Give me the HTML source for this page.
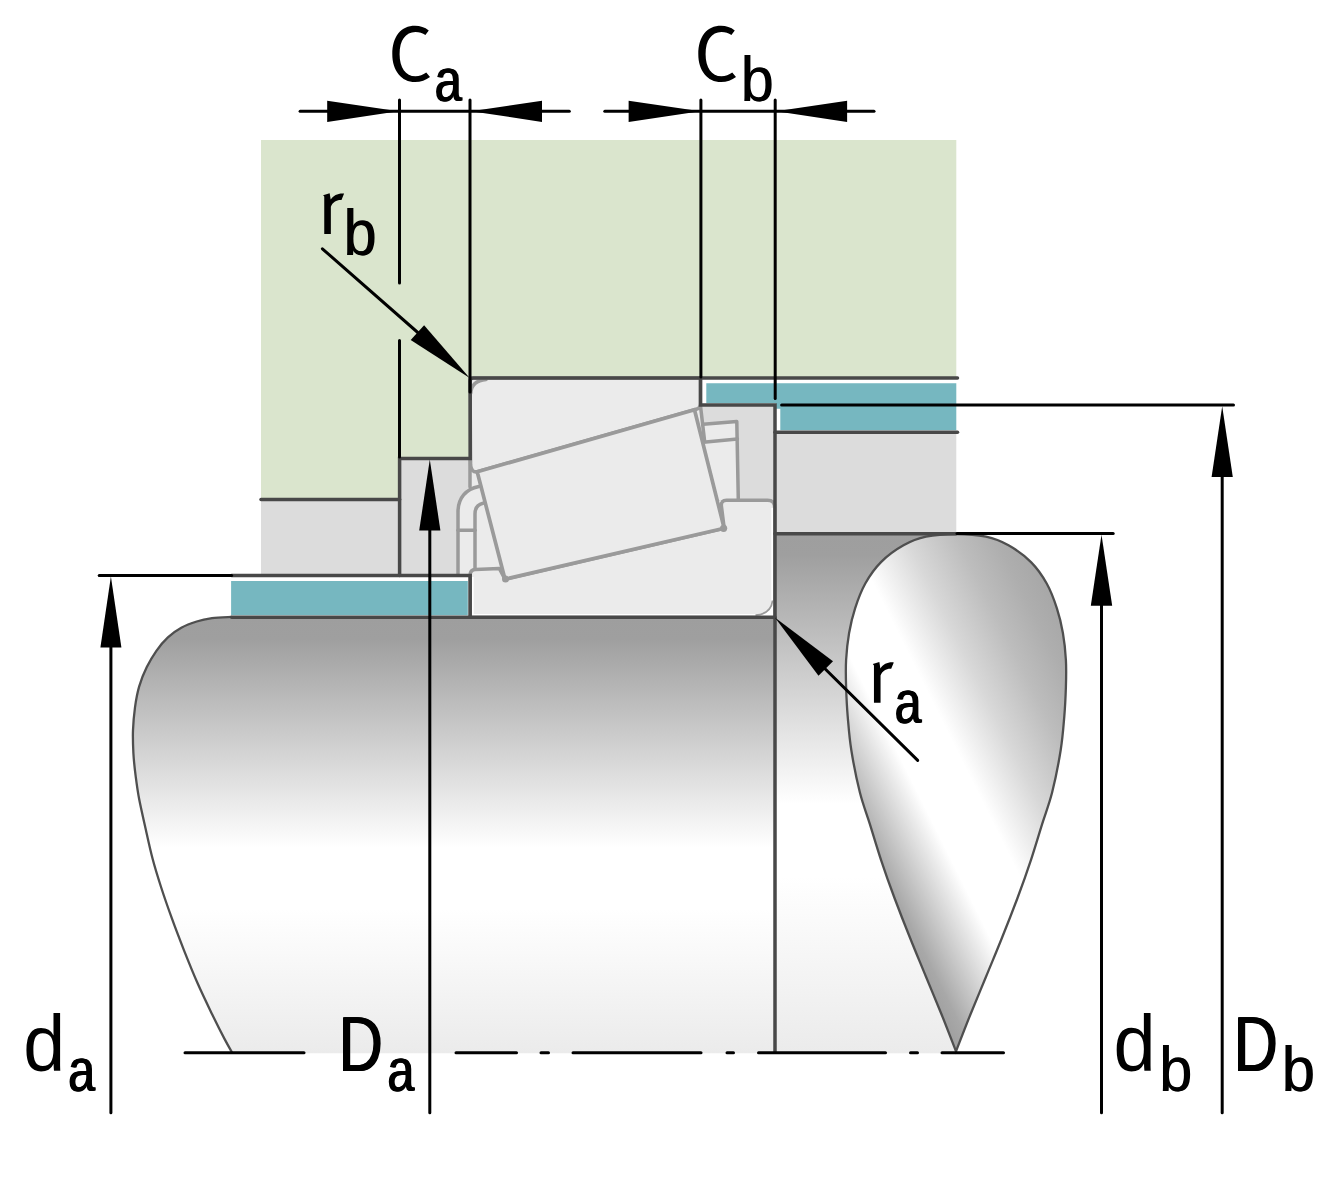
<!DOCTYPE html>
<html>
<head>
<meta charset="utf-8">
<title>Bearing mounting dimensions</title>
<style>
  html, body { margin: 0; padding: 0; background: #ffffff; }
  body { width: 1330px; height: 1200px; overflow: hidden; font-family: "Liberation Sans", sans-serif; }
  svg { display: block; }
  text { font-family: "Liberation Sans", sans-serif; fill: #000; }
</style>
</head>
<body>
<svg width="1330" height="1200" viewBox="0 0 1330 1200">
  <defs>
    <linearGradient id="gShaftL" gradientUnits="userSpaceOnUse" x1="0" y1="617" x2="0" y2="1053">
      <stop offset="0" stop-color="#9e9e9e"/>
      <stop offset="0.05" stop-color="#9f9f9f"/>
      <stop offset="0.53" stop-color="#ffffff"/>
      <stop offset="0.67" stop-color="#ffffff"/>
      <stop offset="1" stop-color="#ebebeb"/>
    </linearGradient>
    <linearGradient id="gShaftR" gradientUnits="userSpaceOnUse" x1="0" y1="534" x2="0" y2="1053">
      <stop offset="0" stop-color="#9e9e9e"/>
      <stop offset="0.04" stop-color="#9f9f9f"/>
      <stop offset="0.52" stop-color="#ffffff"/>
      <stop offset="0.66" stop-color="#ffffff"/>
      <stop offset="1" stop-color="#ebebeb"/>
    </linearGradient>
    <linearGradient id="gDrop" gradientUnits="userSpaceOnUse" x1="847.3" y1="844.4" x2="1115.5" y2="710.3">
      <stop offset="0" stop-color="#9c9c9c"/>
      <stop offset="0.067" stop-color="#a8a8a8"/>
      <stop offset="0.287" stop-color="#ffffff"/>
      <stop offset="0.467" stop-color="#ffffff"/>
      <stop offset="0.633" stop-color="#d8d8d8"/>
      <stop offset="0.783" stop-color="#bdbdbd"/>
      <stop offset="0.9" stop-color="#aeaeae"/>
      <stop offset="1" stop-color="#a6a6a6"/>
    </linearGradient>
  </defs>

  <rect x="0" y="0" width="1330" height="1200" fill="#ffffff"/>

  <!-- housing (green) -->
  <path id="housing" d="M261,140 H956.3 V378 H470 V458.5 H399.6 V499.4 H261 Z" fill="#dae5cd"/>

  <!-- grey adjacent parts -->
  <rect x="261" y="499.4" width="138.6" height="76" fill="#dcdcdc"/>
  <rect x="399.6" y="458.5" width="71" height="117" fill="#dcdcdc"/>
  <rect x="700.8" y="405" width="74.2" height="96" fill="#dcdcdc"/>
  <rect x="775" y="432" width="181.3" height="102" fill="#dcdcdc"/>

  <!-- teal spacers -->
  <rect x="231.1" y="581" width="236.7" height="34.2" fill="#76b7c0"/>
  <path d="M706.3,383.3 H956.3 V430.3 H780.3 V408.8 H776 V403.2 H706.3 Z" fill="#76b7c0"/>

  <!-- shaft -->
  <path id="shaftL" d="M231.4,616.9 C228.2,617.1 217.8,617.4 212.0,618.2 C206.2,619.0 201.8,619.9 196.7,621.5 C191.6,623.1 186.1,625.1 181.3,627.8 C176.5,630.4 172.1,633.6 167.9,637.4 C163.8,641.2 159.9,645.8 156.4,650.8 C152.9,655.8 149.7,661.2 146.8,667.1 C143.9,673.0 141.2,679.6 139.2,686.3 C137.2,693.0 136.0,700.0 135.0,707.3 C134.0,714.6 133.3,722.6 133.0,730.3 C132.7,738.0 133.0,745.6 133.4,753.3 C133.8,761.0 134.7,768.6 135.7,776.3 C136.7,784.0 137.5,790.3 139.2,799.3 C140.9,808.2 143.7,820.1 145.9,830.0 C148.1,839.9 150.1,849.2 152.6,858.8 C155.1,868.4 158.0,877.6 161.2,887.5 C164.4,897.4 168.0,907.7 171.8,918.2 C175.6,928.8 179.9,939.9 184.2,950.8 C188.5,961.6 193.0,972.8 197.6,983.3 C202.2,993.8 207.5,1004.7 212.0,1014.0 C216.5,1023.3 221.2,1032.6 224.5,1038.9 C227.8,1045.2 230.4,1049.5 231.6,1051.6 L231.6,1053.3 H775 V617 Z" fill="url(#gShaftL)"/>
  <rect x="775" y="534" width="181" height="519.3" fill="url(#gShaftR)"/>
  <path d="M231.4,616.9 C228.2,617.1 217.8,617.4 212.0,618.2 C206.2,619.0 201.8,619.9 196.7,621.5 C191.6,623.1 186.1,625.1 181.3,627.8 C176.5,630.4 172.1,633.6 167.9,637.4 C163.8,641.2 159.9,645.8 156.4,650.8 C152.9,655.8 149.7,661.2 146.8,667.1 C143.9,673.0 141.2,679.6 139.2,686.3 C137.2,693.0 136.0,700.0 135.0,707.3 C134.0,714.6 133.3,722.6 133.0,730.3 C132.7,738.0 133.0,745.6 133.4,753.3 C133.8,761.0 134.7,768.6 135.7,776.3 C136.7,784.0 137.5,790.3 139.2,799.3 C140.9,808.2 143.7,820.1 145.9,830.0 C148.1,839.9 150.1,849.2 152.6,858.8 C155.1,868.4 158.0,877.6 161.2,887.5 C164.4,897.4 168.0,907.7 171.8,918.2 C175.6,928.8 179.9,939.9 184.2,950.8 C188.5,961.6 193.0,972.8 197.6,983.3 C202.2,993.8 207.5,1004.7 212.0,1014.0 C216.5,1023.3 221.2,1032.6 224.5,1038.9 C227.8,1045.2 230.4,1049.5 231.6,1051.6" fill="none" stroke="#4f4f4f" stroke-width="2.3" stroke-linecap="round"/>

  <!-- droplet (section cut) -->
  <path id="drop" d="M956.0,1051.3 C953.6,1045.2 946.8,1027.4 941.8,1015.0 C936.8,1002.6 931.2,989.5 926.0,976.8 C920.8,964.0 915.5,951.6 910.3,938.5 C905.0,925.4 899.4,911.1 894.5,898.0 C889.6,884.9 885.1,872.2 881.0,859.8 C876.9,847.4 873.3,835.0 869.8,823.8 C866.3,812.6 863.0,804.8 859.9,792.5 C856.8,780.2 853.3,762.7 851.3,750.0 C849.3,737.3 848.6,726.8 847.7,716.3 C846.8,705.8 846.4,696.4 846.1,687.0 C845.8,677.6 845.6,669.0 846.1,660.0 C846.6,651.0 847.6,641.6 849.1,633.0 C850.6,624.4 852.4,616.5 855.1,608.3 C857.8,600.0 861.0,591.2 865.3,583.5 C869.6,575.8 874.6,568.5 881.0,562.1 C887.4,555.7 896.0,549.5 903.5,545.3 C911.0,541.1 917.2,538.6 926.0,536.7 C934.8,534.8 946.0,534.0 956.0,534.0 C966.0,534.0 977.2,534.8 986.0,536.7 C994.8,538.6 1001.0,541.1 1008.5,545.3 C1016.0,549.5 1024.6,555.7 1031.0,562.1 C1037.4,568.5 1042.4,575.8 1046.7,583.5 C1051.0,591.2 1054.2,600.0 1056.9,608.3 C1059.6,616.5 1061.4,624.4 1062.9,633.0 C1064.4,641.6 1065.4,651.0 1065.9,660.0 C1066.4,669.0 1066.2,677.6 1065.9,687.0 C1065.6,696.4 1065.2,705.8 1064.3,716.3 C1063.4,726.8 1062.7,737.3 1060.7,750.0 C1058.7,762.7 1055.2,780.2 1052.1,792.5 C1049.0,804.8 1045.7,812.6 1042.2,823.8 C1038.7,835.0 1035.1,847.4 1031.0,859.8 C1026.9,872.2 1022.4,884.9 1017.5,898.0 C1012.6,911.1 1007.0,925.4 1001.7,938.5 C996.5,951.6 991.2,964.0 986.0,976.8 C980.8,989.5 975.2,1002.6 970.2,1015.0 C965.2,1027.4 958.4,1045.2 956.0,1051.3 Z" fill="url(#gDrop)" stroke="#4f4f4f" stroke-width="2.3" stroke-linejoin="miter"/>

  <!-- bearing -->
  <g id="bearing" stroke="#9a9a9a" stroke-width="3.5" stroke-linejoin="round" stroke-linecap="round" fill="#ebebeb">
    <!-- cage background / light areas -->
    <path d="M470,460 V487 C462,492 458,500 458,512 V574 H507 L480,473 Z" stroke="none"/>
    <path d="M694,410 L700.5,407 L703.2,424.2 L736.8,421.6 L738.3,500 H716 Z" stroke="none"/>
    <!-- outer ring -->
    <path d="M470,378 H700.5 V403 Q700.5,408 697,408.98 L477.2,471.8 Q471.2,472.6 470.6,465 Z"/>
    <path d="M470.8,393 Q471.5,381 486,379.6" fill="none"/>
    <!-- inner ring -->
    <path d="M470,617 V575.5 Q470,569.6 475.5,569.4 L499.3,568.4 L505,579.2 L724.2,528.3 L721.4,506 Q720.8,500.3 726.5,500.3 H767.5 Q774.7,500.3 774.7,507.5 V617 Z"/>
    
    <path d="M472.8,577 V614.9 H772.2 V508" fill="none" stroke="#ffffff" stroke-width="1.8" stroke-linejoin="miter" stroke-linecap="butt"/>
    <path d="M755.5,615.9 Q771.5,614.6 773.2,600.5 V615.9 Z" fill="#ffffff" stroke="none"/>
    <path d="M755.5,615.2 Q771,614 772.6,600.5" fill="none" stroke="#9a9a9a" stroke-width="1.8" stroke-linecap="butt"/>
    <!-- cage left -->
    <path d="M470,460 V487" fill="none"/>
    <path d="M478.8,486.5 C466,489 458,498 458,512 V574" fill="none"/>
    <path d="M483,503.3 C477.5,504.5 475,508 475,514 V569.3" fill="none"/>
    <path d="M458,530.3 H475" fill="none"/>
    <!-- cage right -->
    <path d="M700.5,406 L704.7,442" fill="none"/>
    <path d="M703.2,424.2 L736.8,421.6 L738.3,500" fill="none"/>
    <path d="M705.8,442.1 L737.4,438.9" fill="none"/>
    <!-- roller -->
    <path d="M477.2,471.8 L694.5,409.7 L724.2,528.3 L505,579.2 Z" stroke-width="3.7"/>
    <circle cx="723.6" cy="528.3" r="3.6" fill="#9a9a9a" stroke="none"/>
    <circle cx="505.5" cy="579" r="3.5" fill="#9a9a9a" stroke="none"/>
  </g>

  <!-- dark outlines -->
  <g id="outlines" stroke="#484848" stroke-width="3.5" fill="none" stroke-linecap="round" stroke-linejoin="miter">
    <path d="M261,499.4 H399.6"/>
    <path d="M399.6,575.5 V458.5 H470.2 V381 Q470.2,378 473.2,378 H957.5"/>
    <path d="M700.5,378 V405 H775 V1052"/>
    <path d="M775,432.2 H957.5"/>
    <path d="M775,533.8 H956"/>
    <path d="M231.6,575.5 H470.2 V617.3"/>
    <path d="M231.6,617.3 H775"/>
  </g>

  <!-- dimension lines -->
  <g id="dims" stroke="#000" stroke-width="3" fill="none" stroke-linecap="round">
    <path d="M300.1,111.3 H569.3"/>
    <path d="M399.5,100 V283.1 M399.5,340.5 V457"/>
    <path d="M470,100 V392"/>
    <path d="M604.8,111.3 H874"/>
    <path d="M700.9,100 V377"/>
    <path d="M775.2,100 V398.5"/>
    <path d="M781.6,405 H1233.5"/>
    <path d="M1222.2,420 V1112.8"/>
    <path d="M957,533.6 H1113.2"/>
    <path d="M1101.5,550 V1112.8"/>
    <path d="M99.2,575.4 H231.6"/>
    <path d="M110.9,590 V1112.8"/>
    <path d="M429.8,475 V1112.8"/>
    <path d="M322.4,248.8 L440,352"/>
    <path d="M805,649 L917.7,760.4"/>
  </g>

  <!-- centre line -->
  <g stroke="#000" stroke-width="3" stroke-linecap="round" fill="none">
    <path d="M185,1052.7 H304"/>
    <path d="M456,1052.7 H516.5"/>
    <path d="M541,1052.7 H548.5"/>
    <path d="M573,1052.7 H701"/>
    <path d="M727,1052.7 H733.5"/>
    <path d="M758.5,1052.7 H885.5"/>
    <path d="M910.5,1052.7 H917.5"/>
    <path d="M942,1052.7 H1003.5"/>
  </g>

  <!-- arrow heads -->
  <g id="arrows" fill="#000" stroke="none">
    <path d="M398.3,111.3 L327.2,100.7 V121.9 Z"/>
    <path d="M471.1,111.3 L542,100.7 V121.9 Z"/>
    <path d="M700.3,111.3 L628.6,100.7 V121.9 Z"/>
    <path d="M776.1,111.3 L847.1,100.7 V121.9 Z"/>
    <path d="M110.9,576.5 L100.4,647.5 H121.4 Z"/>
    <path d="M429.8,459.4 L419.2,530.6 H440.4 Z"/>
    <path d="M1101.5,534.8 L1090.8,605.8 H1112.2 Z"/>
    <path d="M1222.2,406.2 L1211.6,477 H1232.8 Z"/>
    <path d="M469.7,377.9 L410.7,340.1 L424.1,325.2 Z"/>
    <path d="M774.9,617.6 L818.5,675.7 L833,661.2 Z"/>
  </g>

  <!-- labels -->
  <g id="labels">
    <path id="glyphC" d="M428.75,30.4 C424.8,27.4 420.2,25.8 415,25.8 C401,25.8 392.3,36.5 392.3,54.2 C392.3,70.5 401.5,82.1 415,82.1 C420.8,82.1 426,80.2 430,77.1 L426.25,72.5 C423,74.9 419.5,76.25 415.5,76.25 C405.5,76.25 399.6,67.5 399.6,54.2 C399.6,40.5 405.5,32.1 415.5,32.1 C419.3,32.1 422.6,33.1 425.4,35 Z" fill="#000"/>
    <use href="#glyphC" x="306" y="0"/>
    <path id="glyphR" d="M324.25,233.9 V196.6 L323.1,195.3 L329.65,193.2 L330.7,199.6 C333.6,195.4 338,193.1 344.1,193.6 L341.5,200 C336.6,199.7 332.7,202 330.85,206.8 V233.9 Z" fill="#000"/>
    <use href="#glyphR" x="549.7" y="468.8"/>
    <text transform="translate(433.96,101.48) scale(0.789,1)" font-size="61.7">a</text>
    <text transform="translate(434.71,101.48) scale(0.789,1)" font-size="61.7">a</text>
    <text transform="translate(435.46,101.48) scale(0.789,1)" font-size="61.7">a</text>
    <text transform="translate(740.42,101.06) scale(0.929,1)" font-size="63.6">b</text>
    <text transform="translate(741.32,101.06) scale(0.929,1)" font-size="63.6">b</text>
    <text transform="translate(343.33,255.00) scale(0.922,1)" font-size="63.9">b</text>
    <text transform="translate(344.23,255.00) scale(0.922,1)" font-size="63.9">b</text>
    <text transform="translate(893.99,722.79) scale(0.783,1)" font-size="61.1">a</text>
    <text transform="translate(894.74,722.79) scale(0.783,1)" font-size="61.1">a</text>
    <text transform="translate(895.49,722.79) scale(0.783,1)" font-size="61.1">a</text>
    <text transform="translate(23.14,1070.90) scale(0.947,1)" font-size="79.6">d</text>
    <text transform="translate(67.58,1091.48) scale(0.779,1)" font-size="61.7">a</text>
    <text transform="translate(68.33,1091.48) scale(0.779,1)" font-size="61.7">a</text>
    <text transform="translate(69.08,1091.48) scale(0.779,1)" font-size="61.7">a</text>
    <text transform="translate(337.90,1071.30) scale(0.786,1)" font-size="77.6">D</text>
    <text transform="translate(338.75,1071.30) scale(0.786,1)" font-size="77.6">D</text>
    <text transform="translate(339.60,1071.30) scale(0.786,1)" font-size="77.6">D</text>
    <text transform="translate(386.78,1091.48) scale(0.779,1)" font-size="61.7">a</text>
    <text transform="translate(387.53,1091.48) scale(0.779,1)" font-size="61.7">a</text>
    <text transform="translate(388.28,1091.48) scale(0.779,1)" font-size="61.7">a</text>
    <text transform="translate(1113.52,1070.71) scale(0.954,1)" font-size="79.4">d</text>
    <text transform="translate(1158.92,1091.06) scale(0.929,1)" font-size="63.6">b</text>
    <text transform="translate(1159.82,1091.06) scale(0.929,1)" font-size="63.6">b</text>
    <text transform="translate(1232.90,1071.30) scale(0.786,1)" font-size="77.6">D</text>
    <text transform="translate(1233.75,1071.30) scale(0.786,1)" font-size="77.6">D</text>
    <text transform="translate(1234.60,1071.30) scale(0.786,1)" font-size="77.6">D</text>
    <text transform="translate(1281.62,1091.06) scale(0.929,1)" font-size="63.6">b</text>
    <text transform="translate(1282.52,1091.06) scale(0.929,1)" font-size="63.6">b</text>
  </g>
</svg>
</body>
</html>
